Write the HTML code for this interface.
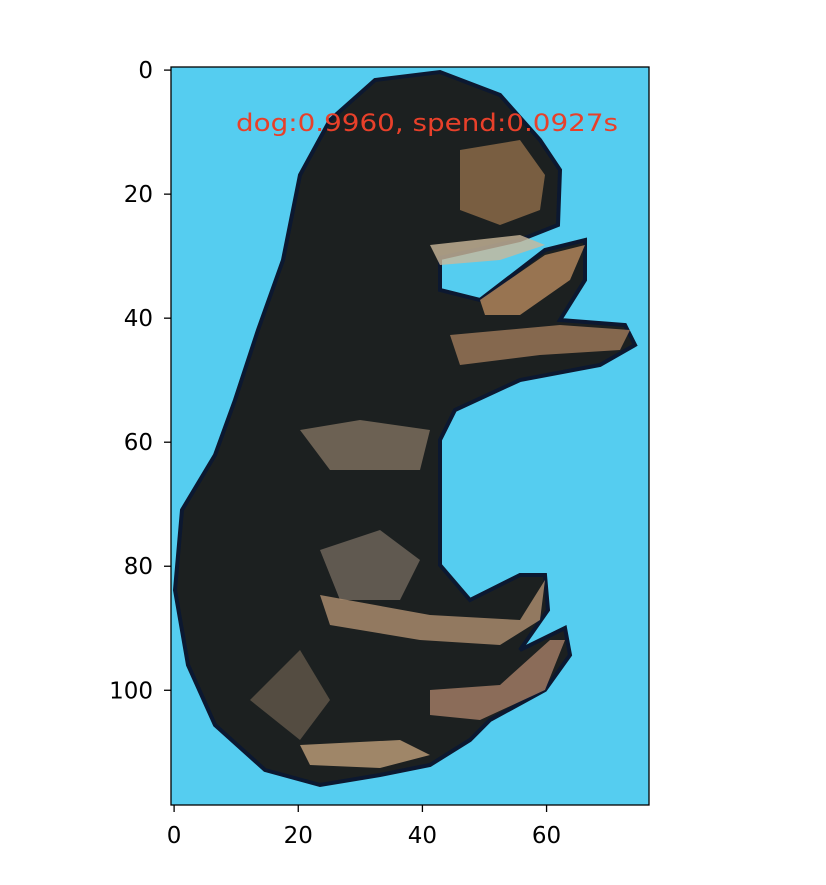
<!DOCTYPE html>
<html><head><meta charset="utf-8"><style>
html,body{margin:0;padding:0;background:#fff;}
svg text{font-family:"DejaVu Sans","Liberation Sans",sans-serif;}
</style></head><body>
<svg id="chart" width="826" height="880" xmlns="http://www.w3.org/2000/svg">
<defs><clipPath id="c"><rect x="171" y="67" width="478" height="738"/></clipPath></defs>
<g clip-path="url(#c)">
<rect x="171" y="67" width="478" height="738" fill="#55cdf0"/>
<path fill="#1c2020" stroke="#0c1830" stroke-width="4" d="M300,175 L330,120 L375,80 L440,72 L500,95 L540,140 L560,170 L558,225 L520,240 L440,258 L440,290 L480,300 L545,250 L585,240 L585,280 L560,320 L625,325 L635,345 L600,365 L520,380 L455,410 L440,440 L440,565 L470,600 L520,575 L545,575 L548,610 L520,650 L565,628 L570,655 L545,690 L490,720 L470,740 L430,765 L380,775 L320,785 L265,770 L215,725 L188,665 L175,590 L182,510 L215,455 L235,400 L258,330 L283,260 Z"/>
<path fill="#8a6a48" opacity="0.85" d="M460,150 L520,140 L545,175 L540,210 L500,225 L460,210 Z"/>
<path fill="#cbb89a" opacity="0.8" d="M430,245 L520,235 L545,245 L500,260 L440,265 Z"/>
<path fill="#b88a5e" opacity="0.8" d="M480,300 L545,255 L585,245 L570,280 L520,315 L485,315 Z"/>
<path fill="#a07a5a" opacity="0.8" d="M450,335 L560,325 L630,330 L620,350 L540,355 L460,365 Z"/>
<path fill="#8f7d6a" opacity="0.7" d="M300,430 L360,420 L430,430 L420,470 L330,470 Z"/>
<path fill="#7d7265" opacity="0.7" d="M320,550 L380,530 L420,560 L400,600 L340,600 Z"/>
<path fill="#b09070" opacity="0.8" d="M320,595 L430,615 L520,620 L545,580 L540,620 L500,645 L420,640 L330,625 Z"/>
<path fill="#a88068" opacity="0.8" d="M430,690 L500,685 L550,640 L565,640 L545,690 L480,720 L430,715 Z"/>
<path fill="#c0a07a" opacity="0.8" d="M300,745 L400,740 L430,755 L380,768 L310,765 Z"/>
<path fill="#7a6a58" opacity="0.6" d="M250,700 L300,650 L330,700 L300,740 Z"/>
</g>
<rect x="171" y="67" width="478" height="738" fill="none" stroke="#000" stroke-width="1.3"/>
<text x="236" y="131" fill="#e8402a" font-size="24" textLength="382" lengthAdjust="spacingAndGlyphs">dog:0.9960, spend:0.0927s</text>
<g id="xt"></g><g id="yt"></g>
</svg>
<script>
const xTicks=[0,20,40,60];
const yTicks=[0,20,40,60,80,100];
const xMin=-0.5,xMax=76.5,yMin=-0.5,yMax=118.5;
const L=171,R=649,T=67,B=805;
function sx(v){return L+(v-xMin)/(xMax-xMin)*(R-L);}
function sy(v){return T+(v-yMin)/(yMax-yMin)*(B-T);}
const NS="http://www.w3.org/2000/svg";
const xg=document.getElementById('xt'),yg=document.getElementById('yt');
xTicks.forEach(v=>{
 const l=document.createElementNS(NS,'line');
 
 
 l.setAttribute('x1',sx(v));l.setAttribute('x2',sx(v));l.setAttribute('y1',B);l.setAttribute('y2',B+7);l.setAttribute('stroke','#000');l.setAttribute('stroke-width','1.3');
 xg.appendChild(l);
 const t=document.createElementNS(NS,'text');
 
 
 t.setAttribute('x',sx(v));t.setAttribute('y',B+38);t.setAttribute('text-anchor','middle');t.setAttribute('font-size','23');
 t.textContent=v;xg.appendChild(t);
});
yTicks.forEach(v=>{
 const l=document.createElementNS(NS,'line');
 
 
 l.setAttribute('x1',L-7);l.setAttribute('x2',L);l.setAttribute('y1',sy(v));l.setAttribute('y2',sy(v));l.setAttribute('stroke','#000');l.setAttribute('stroke-width','1.3');
 yg.appendChild(l);
 const t=document.createElementNS(NS,'text');
 
 
 t.setAttribute('x',L-18);t.setAttribute('y',sy(v)+8);t.setAttribute('text-anchor','end');t.setAttribute('font-size','23');
 t.textContent=v;yg.appendChild(t);
});
</script>
</body></html>
